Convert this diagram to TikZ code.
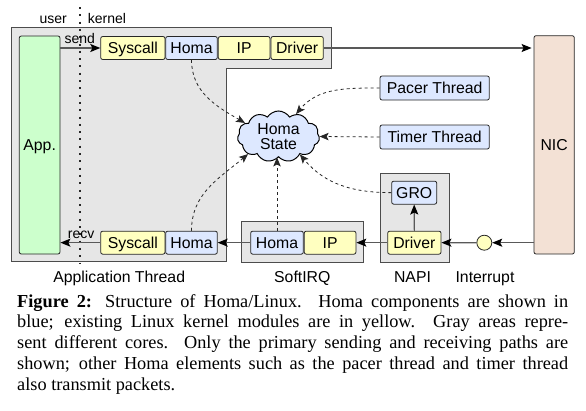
\documentclass[tikz,border=0pt]{standalone}
\usepackage{fontspec}
\setmainfont{Liberation Sans}
\newfontfamily\capfont{Liberation Serif}
\usetikzlibrary{shapes.symbols, arrows.meta}
\definecolor{grayarea}{HTML}{E6E6E6}
\definecolor{ylw}{HTML}{FFFFC0}
\definecolor{blu}{HTML}{DDE8FF}
\definecolor{grn}{HTML}{CCFFCC}
\definecolor{nicc}{HTML}{F3E1D5}
\tikzset{
  lbl/.style={font=\fontsize{15.8}{17}\selectfont, inner sep=0pt, text height=11.3pt, text depth=0pt},
  smalllbl/.style={font=\fontsize{14}{16}\selectfont, inner sep=0pt, text height=10pt, text depth=0pt},
  box/.style={draw=black!85, line width=0.8pt, rounded corners=2pt, inner sep=0pt, minimum height=23pt,
    font=\fontsize{15.8}{17}\selectfont, text height=11.3pt, text depth=0pt},
  ybox/.style={box, fill=ylw},
  bbox/.style={box, fill=blu},
  core/.style={draw=black!70, fill=grayarea, line width=0.8pt},
  flow/.style={draw=black!65, line width=1.2pt, -{Stealth[length=10pt,width=8pt,inset=2pt,color=black]}},
  dep/.style={draw=black!85, line width=0.8pt, dash pattern=on 3pt off 3pt, -{Stealth[length=9pt,width=7.5pt,inset=2pt]}},
  dotline/.style={draw=black!85, line width=2pt, dash pattern=on 2pt off 5.3pt},
}
\begin{document}
\begin{tikzpicture}[x=1pt,y=1pt]
\useasboundingbox (0,0) rectangle (586,-410);
% gray core areas
\draw[core] (11.7,-27.7) -- (331.7,-27.7) -- (331.7,-68.3) -- (226,-68.3) -- (226,-261.7) -- (11.7,-261.7) -- cycle;
\draw[core] (241.7,-221.7) rectangle (363.3,-262.3);
\draw[core] (380,-173.3) rectangle (449,-262.3);
% user/kernel divider
\coordinate (dtop) at (80,-7);
\coordinate (dbot) at (80,-263);
\draw[dotline] (dtop) -- (dbot);
\node[smalllbl, anchor=east] (user) at (67,-18) {user};
\node[smalllbl, anchor=west] (kernel) at (87.7,-18) {kernel};
% app and NIC
\node[box, fill=grn, minimum width=40.7pt, minimum height=218pt] (app) at (39.65,-145) {App.};
\node[box, fill=nicc, minimum width=40.3pt, minimum height=218.3pt] (nic) at (554.15,-144.85) {NIC};
% top row
\node[ybox, minimum width=64.3pt] (sys1) at (132.85,-48) {Syscall};
\node[bbox, minimum width=51.6pt] (h1) at (191.5,-48) {Homa};
\node[ybox, minimum width=51.7pt] (ip1) at (244.15,-48) {IP};
\node[ybox, minimum width=52.3pt] (drv1) at (297.15,-48) {Driver};
% bottom row
\node[ybox, minimum width=64.3pt] (sys2) at (132.85,-242.65) {Syscall};
\node[bbox, minimum width=51.6pt] (h2) at (191.5,-242.65) {Homa};
\node[bbox, minimum width=52.6pt] (h3) at (277,-242.65) {Homa};
\node[ybox, minimum width=51.7pt] (ip3) at (330.1,-242.65) {IP};
\node[ybox, minimum width=53.3pt] (drv4) at (414.35,-242.65) {Driver};
\node[bbox, minimum width=45pt] (gro) at (414.2,-192.65) {GRO};
\node[circle, draw=black!85, line width=0.8pt, fill=ylw, minimum size=15pt, inner sep=0pt] (irq) at (484.3,-242.7) {};
% threads
\node[bbox, minimum width=109.3pt, minimum height=24pt] (pacer) at (434.65,-88) {Pacer Thread};
\node[bbox, minimum width=109.3pt, minimum height=24pt] (timer) at (434.65,-137) {Timer Thread};
% cloud
\node[cloud, cloud puffs=11, cloud puff arc=115, aspect=1.6, draw=black, line width=1pt, fill=blu,
  minimum width=82pt, minimum height=51pt, inner sep=0pt, align=center,
  font=\fontsize{15.8}{15.5}\selectfont] (state) at (278.5,-136.5) {Homa\\State};
% labels
\node[smalllbl, anchor=west] (send) at (64.3,-38) {send};
\node[smalllbl, anchor=west] (recv) at (67.7,-233) {recv};
\node[lbl] (lapp) at (119.2,-277.3) {Application Thread};
\node[lbl] (lsoft) at (302.3,-277.3) {SoftIRQ};
\node[lbl] (lnapi) at (412.5,-277.3) {NAPI};
\node[lbl] (lirq) at (485,-277.3) {Interrupt};
% main flows
\draw[flow] (app.east |- sys1.west) -- (sys1.west);
\draw[flow] (drv1.east) -- ([xshift=-2pt]nic.west |- drv1.east);
\draw[flow] (nic.west |- irq.east) -- (irq.east);
\draw[flow] (irq.west) -- (drv4.east);
\draw[flow] (drv4.west) -- (ip3.east);
\draw[flow] (h3.west) -- (h2.east);
\draw[flow] (sys2.west) -- (app.east |- sys2.west);
\draw[flow] (drv4.north) -- (gro.south);
% state accesses
\draw[dep] (h1.south) to[out=-90, in=150] (state.158);
\draw[dep] (pacer.west) to[out=180, in=50] (state.52);
\draw[dep] (timer.west) -- (state.east);
\draw[dep] (h3.north) -- (h3.north |- state.south);
\draw[dep] (gro.west) to[out=180, in=-50] (state.-40);
\draw[dep] (h2.north) to[out=90, in=-140] (state.-150);
% caption
\node[anchor=north west, text width=551pt, align=justify, inner sep=0pt,
  font=\capfont\fontsize{18.3}{20.8}\selectfont] (cap) at (17,-294)
  {\textbf{Figure 2:} Structure of Homa/Linux.  Homa components are shown in\linebreak
   blue; existing Linux kernel modules are in yellow.  Gray areas repre-\linebreak{}sent
   different cores. Only the primary sending and receiving paths are\linebreak
   shown; other Homa elements such as the pacer thread and timer thread\linebreak
   also transmit packets.};
\end{tikzpicture}
\end{document}
